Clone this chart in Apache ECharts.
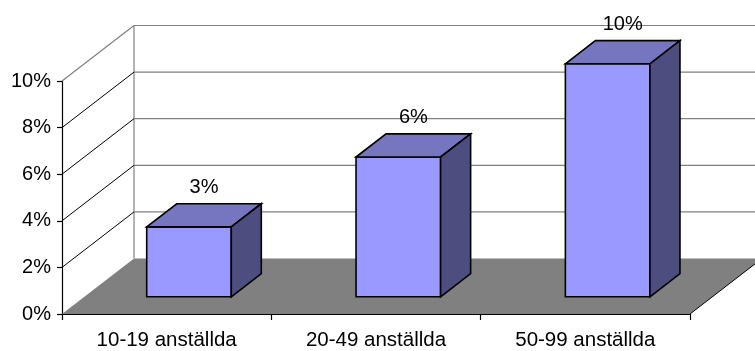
<!DOCTYPE html>
<html>
<head>
<meta charset="utf-8">
<script src="https://cdn.jsdelivr.net/npm/echarts@6/dist/echarts.min.js"></script>
<style>
  html, body { margin: 0; padding: 0; background: #fff; }
  #chart { width: 755px; height: 351px; }
</style>
</head>
<body>
<div id="chart"></div>
<script>
// Share of companies per size class (percent)
const categories = ['10-19 anställda', '20-49 anställda', '50-99 anställda'];
const shares = [3, 6, 10];
const yTicks = [0, 2, 4, 6, 8, 10];

// Oblique projection of the depth axis (pixels for the full depth)
const DEPTH_X = 72;
const DEPTH_Y = -55.5;
// Depth range occupied by a bar (fractions of the full depth)
const BAR_NEAR = 0.31;
const BAR_FAR = 0.727;
// Bar width as a fraction of the category band
const BAR_WIDTH = 0.404;
const FONT = '"Liberation Sans", Arial, sans-serif';

function shift(p, f) {
  return [p[0] + f * DEPTH_X, p[1] + f * DEPTH_Y];
}

function plotEdges(api) {
  const band = api.size([1, 0])[0];
  const o = api.coord([0, 0]);
  const left = o[0] - band / 2;
  const right = left + band * categories.length;
  return { band, left, right, base: o[1] };
}

// Floor plane, its right edge and the back wall's left edge
function renderFloor(params, api) {
  const e = plotEdges(api);
  const a = [e.left, e.base];
  const b = [e.right, e.base];
  const c = shift(b, 1);
  const d = shift(a, 1);
  const topBack = shift([e.left, api.coord([0, yTicks[yTicks.length - 1]])[1]], 1);
  return {
    type: 'group',
    children: [
      { type: 'polygon', shape: { points: [a, b, c, d] }, style: { fill: '#808080' } },
      { type: 'line', shape: { x1: b[0], y1: b[1], x2: c[0], y2: c[1] },
        style: { stroke: '#000', lineWidth: 1 } },
      { type: 'line', shape: { x1: d[0], y1: d[1], x2: topBack[0], y2: topBack[1] },
        style: { stroke: '#808080', lineWidth: 1.2 } }
    ]
  };
}

// Side-wall diagonals and back-wall gridlines for each value tick
function renderWalls(params, api) {
  const v = api.value(0);
  if (v === 0) return null;
  const e = plotEdges(api);
  const y = api.coord([0, v])[1];
  const p = [e.left, y];
  const q = shift(p, 1);
  const isTop = v === yTicks[yTicks.length - 1];
  return {
    type: 'group',
    children: [
      { type: 'line', shape: { x1: p[0], y1: p[1], x2: q[0], y2: q[1] },
        style: { stroke: isTop ? '#808080' : '#000', lineWidth: isTop ? 1.2 : 1 } },
      { type: 'line', shape: { x1: q[0], y1: q[1], x2: e.right + DEPTH_X, y2: q[1] },
        style: { stroke: '#808080', lineWidth: 1.2 } }
    ]
  };
}

// Box-shaped bar with a value label above it
function renderBar(params, api) {
  const idx = api.value(0);
  const v = api.value(1);
  const e = plotEdges(api);
  const top = api.coord([idx, v]);
  const cx = top[0];
  const hw = e.band * BAR_WIDTH / 2;
  const yTop = top[1];
  const yBase = e.base;

  const fTL = shift([cx - hw, yTop], BAR_NEAR);
  const fTR = shift([cx + hw, yTop], BAR_NEAR);
  const fBR = shift([cx + hw, yBase], BAR_NEAR);
  const fBL = shift([cx - hw, yBase], BAR_NEAR);
  const bTL = shift([cx - hw, yTop], BAR_FAR);
  const bTR = shift([cx + hw, yTop], BAR_FAR);
  const bBR = shift([cx + hw, yBase], BAR_FAR);

  const edge = { stroke: '#000', lineWidth: 1.6, lineJoin: 'miter' };
  const labelPos = shift([cx, yTop], 1);
  const midX = cx + (BAR_NEAR + BAR_FAR) / 2 * DEPTH_X;

  return {
    type: 'group',
    children: [
      { type: 'polygon', shape: { points: [fTL, fTR, fBR, fBL] },
        style: Object.assign({ fill: '#9999FF' }, edge) },
      { type: 'polygon', shape: { points: [fTL, bTL, bTR, fTR] },
        style: Object.assign({ fill: '#7575C0' }, edge) },
      { type: 'polygon', shape: { points: [fTR, bTR, bBR, fBR] },
        style: Object.assign({ fill: '#4D4D80' }, edge) },
      { type: 'text', x: midX, y: labelPos[1] - 1,
        style: { text: v + '%', fill: '#000', font: '20px ' + FONT,
                 align: 'center', verticalAlign: 'middle' } }
    ]
  };
}

const chart = echarts.init(document.getElementById('chart'));
chart.setOption({
  animation: false,
  backgroundColor: '#fff',
  grid: { left: 62, right: 65, top: 81, bottom: 37 },
  xAxis: {
    type: 'category',
    data: categories,
    boundaryGap: true,
    axisLine: { show: true, lineStyle: { color: '#000', width: 1.2 } },
    axisTick: { show: true, length: 6, lineStyle: { color: '#000', width: 1.2 } },
    axisLabel: { color: '#000', fontSize: 20.5, fontFamily: FONT, margin: 16, interval: 0 },
    splitLine: { show: false }
  },
  yAxis: {
    type: 'value',
    min: 0,
    max: 10,
    interval: 2,
    axisLine: { show: true, lineStyle: { color: '#000', width: 1.2 } },
    axisTick: { show: true, length: 5, lineStyle: { color: '#000', width: 1.2 } },
    axisLabel: { color: '#000', fontSize: 20, fontFamily: FONT, margin: 11,
                 formatter: '{value}%' },
    splitLine: { show: false }
  },
  series: [
    { type: 'custom', name: 'floor', data: [[0]], renderItem: renderFloor, clip: false,
      silent: true, z: 1 },
    { type: 'custom', name: 'walls', data: yTicks.map(v => [v]), renderItem: renderWalls,
      clip: false, silent: true, z: 1, encode: { y: 0 } },
    { type: 'custom', name: 'Andel', data: shares.map((v, i) => [i, v]),
      renderItem: renderBar, clip: false, z: 3, encode: { x: 0, y: 1 } }
  ]
});
</script>
</body>
</html>
